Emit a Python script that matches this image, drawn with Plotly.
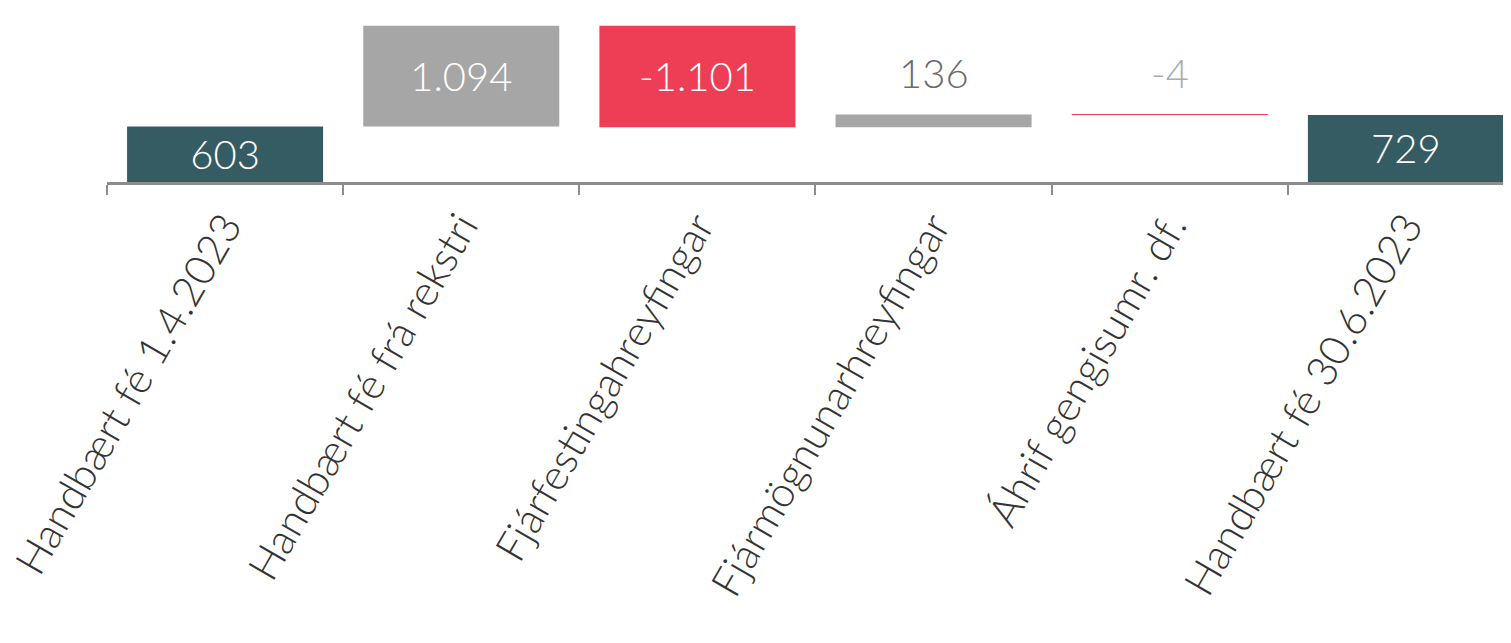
import plotly.graph_objects as go

categories = ["Handbært fé 1.4.2023", "Handbært fé frá rekstri", "Fjárfestingahreyfingar",
              "Fjármögnunarhreyfingar", "Áhrif gengisumr. df.", "Handbært fé 30.6.2023"]
values = [603, 1094, -1101, 136, -4, 729]
measures = ["absolute", "relative", "relative", "relative", "relative", "total"]

labels = [f"{v:,}".replace(",", ".") for v in values]
inside = [True, True, True, False, False, True]
outside_colors = {3: "#6b6b6b", 4: "#a7acb2"}

TEAL = "#365c63"
GREY = "#a6a6a6"
RED = "#ee3e55"

fig = go.Figure(go.Waterfall(
    x=categories,
    y=values,
    measure=measures,
    text=[l if ins else "" for l, ins in zip(labels, inside)],
    textposition="inside",
    textfont=dict(family="Lato", size=40, color="white", weight=300),
    insidetextanchor="middle",
    constraintext="none",
    textangle=0,
    width=0.83,
    increasing=dict(marker=dict(color=GREY)),
    decreasing=dict(marker=dict(color=RED)),
    totals=dict(marker=dict(color=TEAL)),
    connector=dict(visible=False),
    cliponaxis=False,
))

# outside labels placed above the top of the floating bars
running = 0
for i, (v, m) in enumerate(zip(values, measures)):
    if m == "absolute":
        start, end = 0, v
        running = v
    elif m == "relative":
        start, end = running, running + v
        running = end
    else:
        start, end = 0, running
    if not inside[i]:
        fig.add_annotation(
            x=categories[i], y=max(start, end), text=labels[i],
            showarrow=False, yanchor="bottom", yshift=16,
            font=dict(family="Lato", size=40, color=outside_colors[i], weight=300),
        )

fig.update_layout(
    width=1503, height=635,
    margin=dict(l=99, r=0, t=12, b=461),
    paper_bgcolor="white", plot_bgcolor="white",
    showlegend=False,
    xaxis=dict(
        range=[-0.5, 5.445],
        tickangle=-60,
        tickfont=dict(family="Lato", size=42, color="#333333", weight=300),
        ticks="outside", ticklen=10, tickwidth=2, tickcolor="#8c8c8c",
        tickson="boundaries",
        showline=True, linecolor="#8c8c8c", linewidth=3,
        showgrid=False, zeroline=False,
        automargin=False,
    ),
    yaxis=dict(range=[0, 1760], visible=False, showgrid=False, zeroline=False),
)

fig.write_html("out.html")
